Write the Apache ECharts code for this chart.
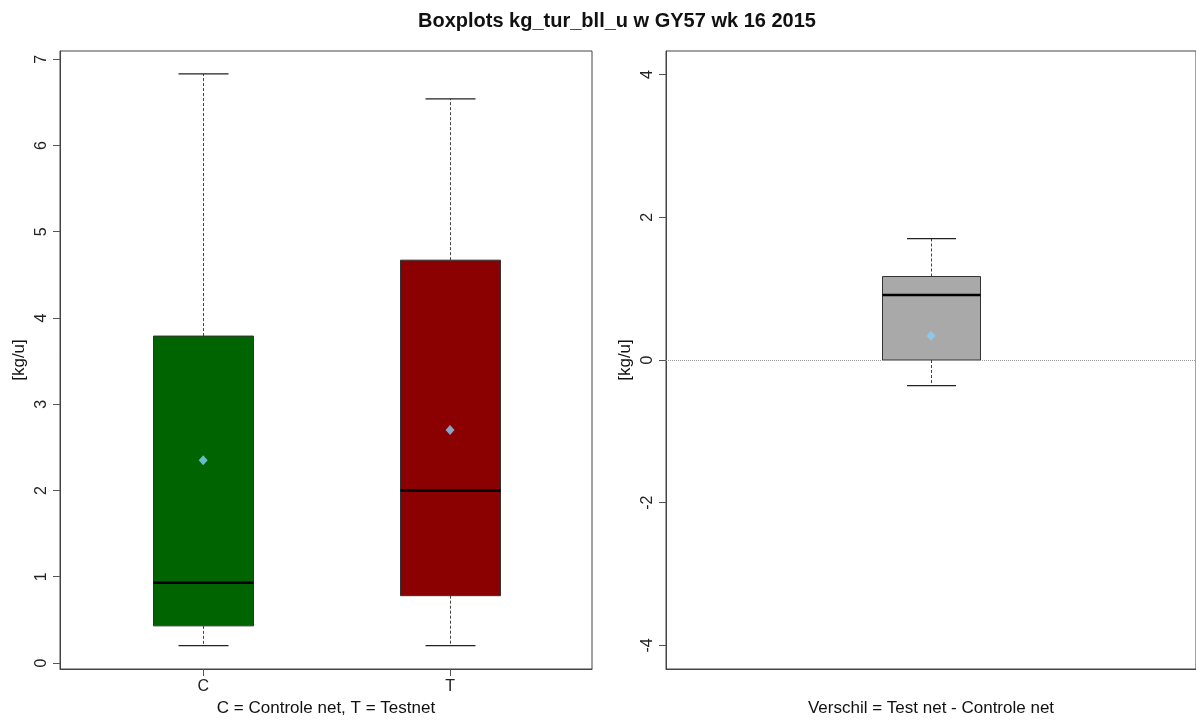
<!DOCTYPE html>
<html>
<head>
<meta charset="utf-8">
<script src="https://cdn.jsdelivr.net/npm/echarts@6/dist/echarts.min.js"></script>
<style>
html,body{margin:0;padding:0;background:#fff;}
#chart{width:1196px;height:722px;}
</style>
</head>
<body>
<div id="chart"></div>
<script>
// ---- data ----
const categories = ['C', 'T'];
const boxLow    = [0.20, 0.20];
const boxQ1     = [0.43, 0.78];
const boxMedian = [0.93, 2.00];
const boxQ3     = [3.79, 4.67];
const boxHigh   = [6.83, 6.54];
const boxMean   = [2.35, 2.70];

const diffLow    = [-0.36];
const diffQ1     = [0.00];
const diffMedian = [0.91];
const diffQ3     = [1.17];
const diffHigh   = [1.70];
const diffMean   = [0.34];

const leftTicks  = [0, 1, 2, 3, 4, 5, 6, 7];
const rightTicks = [-4, -2, 0, 2, 4];

const titleText = 'Boxplots kg_tur_bll_u w GY57 wk 16 2015';
const leftXName = 'C = Controle net, T = Testnet';
const rightXName = 'Verschil = Test net - Controle net';
const yName = '[kg/u]';

// ---- styles ----
const leftColors = ['#006400', '#8B0000'];
const diffColors = ['#A9A9A9'];
const FONT = "'Liberation Sans', Arial, sans-serif";

const leftBoxData = categories.map((c, i) => [i + 1, boxLow[i], boxQ1[i], boxMedian[i], boxQ3[i], boxHigh[i]]);
const leftMeanData = categories.map((c, i) => [i + 1, boxMean[i]]);
const diffBoxData = diffLow.map((v, i) => [i + 1, diffLow[i], diffQ1[i], diffMedian[i], diffQ3[i], diffHigh[i]]);
const diffMeanData = diffMean.map((v, i) => [i + 1, v]);

function makeBoxRender(boxPx, colors) {
  return function (params, api) {
    const x = api.value(0);
    const pLow = api.coord([x, api.value(1)]);
    const pQ1 = api.coord([x, api.value(2)]);
    const pMed = api.coord([x, api.value(3)]);
    const pQ3 = api.coord([x, api.value(4)]);
    const pHigh = api.coord([x, api.value(5)]);
    const cx = Math.round(pLow[0]) + 0.5;
    const hw = boxPx / 2, cw = boxPx / 4;
    const whisk = { stroke: '#444', lineWidth: 1, lineDash: [3, 2] };
    const cap = { stroke: '#222', lineWidth: 1.2 };
    return {
      type: 'group',
      children: [
        { type: 'line', shape: { x1: cx, y1: pQ3[1], x2: cx, y2: pHigh[1] }, style: whisk },
        { type: 'line', shape: { x1: cx, y1: pQ1[1], x2: cx, y2: pLow[1] }, style: whisk },
        { type: 'line', shape: { x1: cx - cw, y1: pHigh[1], x2: cx + cw, y2: pHigh[1] }, style: cap },
        { type: 'line', shape: { x1: cx - cw, y1: pLow[1], x2: cx + cw, y2: pLow[1] }, style: cap },
        { type: 'rect', shape: { x: cx - hw, y: pQ3[1], width: boxPx, height: pQ1[1] - pQ3[1] },
          style: { fill: colors[params.dataIndex], stroke: '#333', lineWidth: 1 } },
        { type: 'line', shape: { x1: cx - hw, y1: pMed[1], x2: cx + hw, y2: pMed[1] },
          style: { stroke: '#000', lineWidth: 2.5 } }
      ]
    };
  };
}

const axisText = { color: '#222', fontFamily: FONT, fontSize: 16 };
const nameText = { color: '#111', fontFamily: FONT, fontSize: 17 };

const option = {
  animation: false,
  backgroundColor: '#fff',
  title: {
    text: titleText,
    left: 418, top: 11, padding: 0,
    textStyle: { fontFamily: FONT, fontSize: 20, fontWeight: 'bold', color: '#111' }
  },
  grid: [
    { left: 60, top: 51, width: 532, height: 621, show: true, borderColor: '#444', borderWidth: 1, backgroundColor: 'transparent' },
    { left: 666, top: 51, width: 532, height: 621, show: true, borderColor: '#444', borderWidth: 1, backgroundColor: 'transparent' }
  ],
  xAxis: [
    {
      type: 'value', gridIndex: 0, min: 0.42, max: 2.575,
      axisLine: { show: true, onZero: false, lineStyle: { color: '#444' } },
      axisTick: { show: true, length: 7, customValues: categories.map((c, i) => i + 1), lineStyle: { color: '#555' } },
      axisLabel: { show: true, margin: 10, customValues: categories.map((c, i) => i + 1),
        formatter: v => categories[Math.round(v) - 1] || '', ...axisText },
      splitLine: { show: false },
      name: leftXName, nameLocation: 'middle', nameGap: 31, nameTextStyle: nameText
    },
    {
      type: 'value', gridIndex: 1, min: 0.5, max: 1.5,
      axisLine: { show: true, onZero: false, lineStyle: { color: '#444' } },
      axisTick: { show: false },
      axisLabel: { show: false },
      splitLine: { show: false },
      name: rightXName, nameLocation: 'middle', nameGap: 31, nameTextStyle: nameText
    }
  ],
  yAxis: [
    {
      type: 'value', gridIndex: 0, min: -0.07, max: 7.095,
      axisLine: { show: true, onZero: false, lineStyle: { color: '#444' } },
      axisTick: { show: true, length: 7, customValues: leftTicks, lineStyle: { color: '#555' } },
      axisLabel: { show: true, rotate: 90, margin: 10, customValues: leftTicks, ...axisText },
      splitLine: { show: false },
      name: yName, nameLocation: 'middle', nameRotate: 90, nameGap: 32, nameTextStyle: nameText
    },
    {
      type: 'value', gridIndex: 1, min: -4.33, max: 4.33,
      axisLine: { show: true, onZero: false, lineStyle: { color: '#444' } },
      axisTick: { show: true, length: 7, customValues: rightTicks, lineStyle: { color: '#555' } },
      axisLabel: { show: true, rotate: 90, margin: 10, customValues: rightTicks, ...axisText },
      splitLine: { show: false },
      name: yName, nameLocation: 'middle', nameRotate: 90, nameGap: 32, nameTextStyle: nameText
    }
  ],
  series: [
    {
      type: 'custom', xAxisIndex: 0, yAxisIndex: 0, z: 2,
      renderItem: makeBoxRender(100, leftColors),
      encode: { x: 0, y: [1, 2, 3, 4, 5] },
      data: leftBoxData
    },
    {
      type: 'scatter', xAxisIndex: 0, yAxisIndex: 0, z: 5,
      symbol: 'diamond', symbolSize: [9, 10],
      itemStyle: { color: '#87CEFA' },
      data: leftMeanData
    },
    {
      type: 'custom', xAxisIndex: 1, yAxisIndex: 1, z: 2,
      renderItem: makeBoxRender(98, diffColors),
      encode: { x: 0, y: [1, 2, 3, 4, 5] },
      data: diffBoxData,
      markLine: {
        silent: true, symbol: 'none', label: { show: false },
        lineStyle: { color: '#999', type: 'dotted', width: 1 },
        data: [{ yAxis: 0 }]
      }
    },
    {
      type: 'scatter', xAxisIndex: 1, yAxisIndex: 1, z: 5,
      symbol: 'diamond', symbolSize: [9, 10],
      itemStyle: { color: '#87CEFA' },
      data: diffMeanData
    }
  ]
};

const chart = echarts.init(document.getElementById('chart'), null, { renderer: 'canvas' });
chart.setOption(option);
</script>
</body>
</html>
